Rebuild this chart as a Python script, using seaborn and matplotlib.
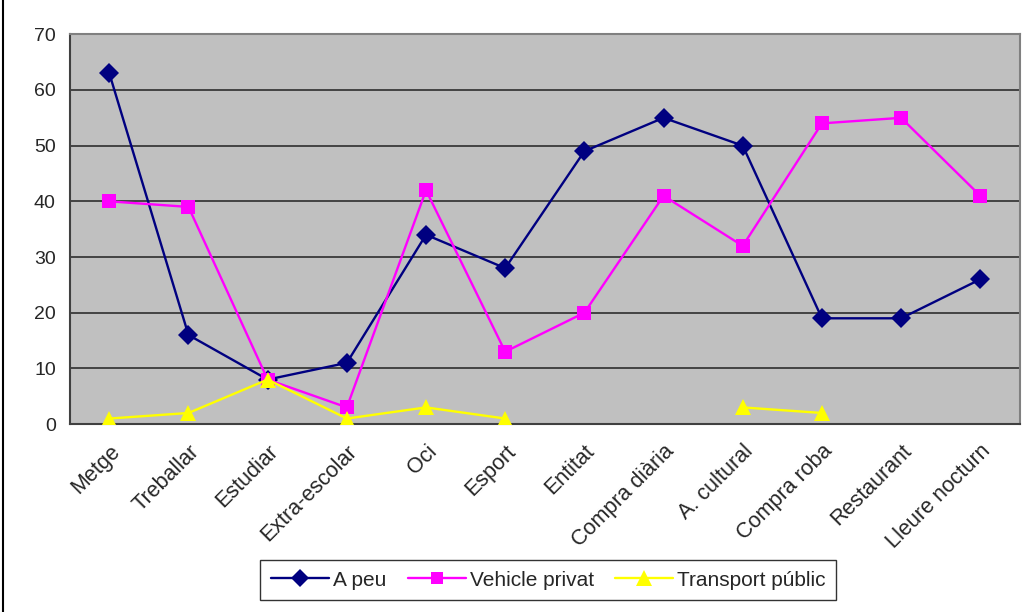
import numpy as np
import pandas as pd
import matplotlib.pyplot as plt
import seaborn as sns
from matplotlib.lines import Line2D
from matplotlib.ticker import FixedLocator

# Data
categories = ["Metge", "Treballar", "Estudiar", "Extra-escolar", "Oci", "Esport",
              "Entitat", "Compra diària", "A. cultural", "Compra roba",
              "Restaurant", "Lleure nocturn"]
a_peu = [63, 16, 8, 11, 34, 28, 49, 55, 50, 19, 19, 26]
vehicle_privat = [40, 39, 8, 3, 42, 13, 20, 41, 32, 54, 55, 41]
transport_public = [1, 2, 8, 1, 3, 1, np.nan, np.nan, 3, 2, np.nan, np.nan]

series = {"A peu": a_peu, "Vehicle privat": vehicle_privat,
          "Transport públic": transport_public}
colors = {"A peu": "#000080", "Vehicle privat": "#FF00FF", "Transport públic": "#FFFF00"}
markers = {"A peu": "D", "Vehicle privat": "s", "Transport públic": "^"}
msizes = {"A peu": 10, "Vehicle privat": 10, "Transport públic": 12}

# long format; a new "seg" starts after each gap so lines break at missing values
rows = []
for name, vals in series.items():
    seg = 0
    for i, v in enumerate(vals):
        if np.isnan(v):
            seg += 1
            continue
        rows.append({"x": i, "valor": v, "serie": name, "seg": seg})
df = pd.DataFrame(rows)

sns.set_style("white")
plt.rcParams["font.family"] = ["Liberation Sans", "DejaVu Sans"]

fig = plt.figure(figsize=(10.25, 6.12), dpi=100)
ax = fig.add_axes([0.068, 0.307, 0.927, 0.637])
ax.set_facecolor("#C0C0C0")

for name in series:
    sub = df[df["serie"] == name]
    sns.lineplot(data=sub, x="x", y="valor", units="seg", estimator=None,
                 color=colors[name], marker=markers[name], markersize=msizes[name],
                 markeredgewidth=0, linewidth=1.7, ax=ax, legend=False, zorder=3)

ax.set_xlim(-0.5, len(categories) - 0.5)
ax.set_ylim(0, 70)
ax.set_yticks(range(0, 71, 10))
ax.set_yticklabels([str(v) for v in range(0, 71, 10)], fontsize=14)
ax.yaxis.grid(True, color="#000000", linewidth=1.3, alpha=0.7)
ax.set_axisbelow(True)

ax.set_xticks(range(len(categories)))
ax.set_xticklabels(categories, rotation=45, ha="right", rotation_mode="anchor",
                   fontsize=15.5)
ax.xaxis.set_minor_locator(FixedLocator(np.arange(-0.5, len(categories), 1)))
ax.tick_params(axis="x", which="major", length=0, pad=12)
ax.tick_params(axis="x", which="minor", length=5, color="#808080", direction="out")
ax.tick_params(axis="y", length=5, color="#808080", direction="out", pad=5)
ax.set_xlabel("")
ax.set_ylabel("")

for side in ["top", "right"]:
    ax.spines[side].set_color("#808080")
    ax.spines[side].set_linewidth(1.5)
for side in ["left", "bottom"]:
    ax.spines[side].set_color("#404040")
    ax.spines[side].set_linewidth(1.5)

handles = [Line2D([0], [0], color=colors[n], marker=markers[n], markersize=msizes[n] - 1,
                  markeredgewidth=0, linewidth=1.7) for n in series]
leg = fig.legend(handles, list(series.keys()), loc="center", ncol=3,
                 bbox_to_anchor=(0.535, 0.052), fontsize=15, frameon=True,
                 fancybox=False, edgecolor="#000000", handlelength=2.8,
                 handletextpad=0.2, columnspacing=1.0, borderpad=0.5)
leg.get_frame().set_linewidth(1.0)

fig.add_artist(Line2D([0.003, 0.003], [0, 1], color="black", linewidth=1.5,
                      transform=fig.transFigure))

fig.savefig("out.png", dpi=100)
plt.close()
